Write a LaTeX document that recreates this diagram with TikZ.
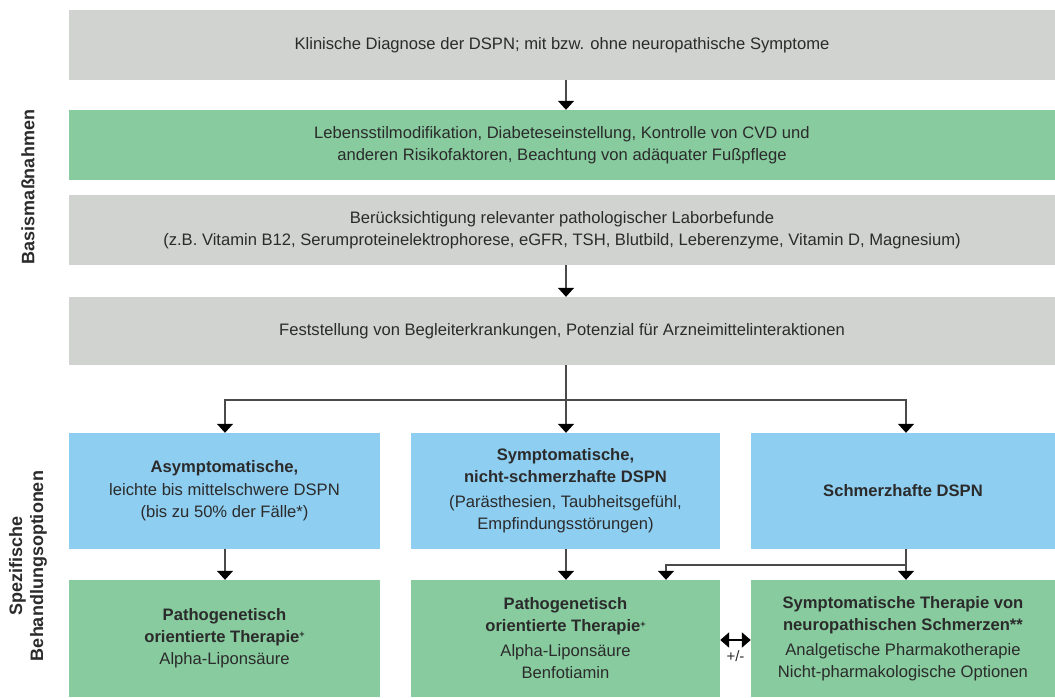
\documentclass[tikz,border=0pt]{standalone}
\usepackage{fontspec}
\setmainfont{Liberation Sans}
\usetikzlibrary{arrows.meta}

\definecolor{boxgrey}{HTML}{D1D3D0}
\definecolor{boxgreen}{HTML}{87CB9F}
\definecolor{boxblue}{HTML}{8ECEF1}
\definecolor{txt}{HTML}{2B2B2B}
\definecolor{linegrey}{HTML}{4A4A4A}

\newcommand{\hochplus}{\raisebox{0.55ex}{\fontsize{9}{9}\selectfont+}}

\tikzset{
  box/.style={rectangle, inner sep=0pt, align=center, text=txt,
    font=\fontsize{16.6}{22}\selectfont},
  greybox/.style={box, fill=boxgrey},
  greenbox/.style={box, fill=boxgreen},
  bluebox/.style={box, fill=boxblue},
  pfeil/.style={draw=linegrey, line width=1.4pt,
    -{Triangle[width=16pt,length=9pt,color=black]}},
  seite/.style={rotate=90, align=center, text=txt,
    font=\fontsize{18}{21}\selectfont\bfseries}
}

\begin{document}
\begin{tikzpicture}[x=1pt,y=-1pt]
\useasboundingbox (0,0) rectangle (1055,697);

% Basismassnahmen
 \node[greybox, minimum width=986, minimum height=70] (diag) at (562,45)
   {Klinische Diagnose der DSPN; mit bzw. ohne neuropathische Symptome};
 \node[greenbox, minimum width=986, minimum height=70] (life) at (562,145)
   {Lebensstilmodifikation, Diabeteseinstellung, Kontrolle von CVD und\\
    anderen Risikofaktoren, Beachtung von adäquater Fußpflege};
 \node[greybox, minimum width=986, minimum height=70] (labor) at (562,230)
   {Berücksichtigung relevanter pathologischer Laborbefunde\\
    (z.B. Vitamin B12, Serumproteinelektrophorese, eGFR, TSH, Blutbild, Leberenzyme, Vitamin D, Magnesium)};
 \node[greybox, minimum width=986, minimum height=68] (begl) at (562,331)
   {Feststellung von Begleiterkrankungen, Potenzial für Arzneimittelinteraktionen};

% Spezifische Optionen
 \node[bluebox, minimum width=311, minimum height=116] (asym) at (224.5,491)
   {\textbf{Asymptomatische,}\\[1pt]leichte bis mittelschwere DSPN\\(bis zu 50\% der Fälle*)};
 \node[bluebox, minimum width=309, minimum height=116] (symp) at (565.5,491)
   {\textbf{Symptomatische,}\\\textbf{nicht-schmerzhafte DSPN}\\[3pt](Parästhesien, Taubheitsgefühl,\\Empfindungsstörungen)};
 \node[bluebox, minimum width=304, minimum height=116] (schm) at (903,491)
   {\textbf{Schmerzhafte DSPN}};

 \node[greenbox, minimum width=311, minimum height=117] (th1) at (224.5,638.5)
   {\textbf{Pathogenetisch}\\\textbf{orientierte Therapie\hochplus}\\Alpha-Liponsäure};
 \node[greenbox, minimum width=309, minimum height=117] (th2) at (565.5,638.5)
   {\textbf{Pathogenetisch}\\\textbf{orientierte Therapie\hochplus}\\[3pt]Alpha-Liponsäure\\Benfotiamin};
 \node[greenbox, minimum width=304, minimum height=117] (th3) at (903,638.5)
   {\textbf{Symptomatische Therapie von}\\\textbf{neuropathischen Schmerzen**}\\[3pt]Analgetische Pharmakotherapie\\Nicht-pharmakologische Optionen};

 \node[seite] (basis) at (28,187) {Basismaßnahmen};
 \node[seite] (spez) at (28,566) {Spezifische\\Behandlungsoptionen};

% Pfeile
 \coordinate (v) at (566,400);
 \coordinate (w) at (906,565);
 \draw[pfeil] (diag.south -| 566,0) -- (life.north -| 566,0);
 \draw[pfeil] (labor.south -| 566,0) -- (begl.north -| 566,0);
 \draw[pfeil] (begl.south -| 566,0) -- (asym.north -| 566,0);
 \draw[pfeil] (v) -| (asym.north -| 225,0);
 \draw[pfeil] (v) -| (schm.north -| 906,0);
 \draw[pfeil] (asym.south -| 225,0) -- (th1.north -| 225,0);
 \draw[pfeil] (symp.south -| 566,0) -- (th2.north -| 566,0);
 \draw[pfeil] (schm.south -| 906,0) -- (th3.north -| 906,0);
 \draw[pfeil] (w) -| (th2.north -| 666,0);
 \draw[draw=black, line width=2.5pt, {Triangle[width=15pt,length=9pt]}-{Triangle[width=15pt,length=9pt]}]
   (th2.east |- 0,640) -- (th3.west |- 0,640)
   node[midway, below=6pt, text=txt, font=\fontsize{15}{17}\selectfont] (pm) {+/-};
\end{tikzpicture}
\end{document}
